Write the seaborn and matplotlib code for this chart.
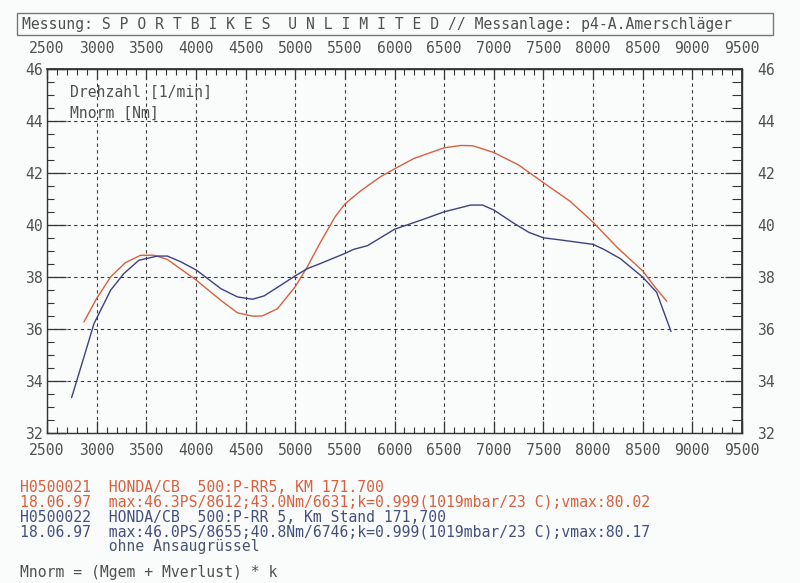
import matplotlib
matplotlib.use("Agg")
import matplotlib.pyplot as plt
from matplotlib.ticker import MultipleLocator
import seaborn as sns
import pandas as pd

# ---- data ----
red_rpm = [2872, 3000, 3141, 3291, 3443, 3578, 3712, 4005, 4250, 4418, 4570, 4670,
           4822, 5000, 5124, 5250, 5400, 5500, 5657, 5859, 6000, 6195, 6500, 6668,
           6786, 7000, 7250, 7500, 7770, 8000, 8243, 8500, 8625, 8743]
red_nm = [36.27, 37.17, 38.0, 38.55, 38.83, 38.83, 38.67, 37.87, 37.1, 36.62, 36.49, 36.5,
          36.78, 37.62, 38.4, 39.3, 40.3, 40.8, 41.3, 41.85, 42.15, 42.55, 42.96, 43.05,
          43.04, 42.78, 42.3, 41.62, 40.9, 40.1, 39.13, 38.23, 37.6, 37.06]

blue_rpm = [2748, 2872, 2973, 3141, 3275, 3426, 3612, 3712, 3847, 4005, 4250, 4418, 4570,
            4687, 4855, 5000, 5124, 5258, 5500, 5591, 5729, 6000, 6297, 6500, 6768, 6886,
            7000, 7202, 7354, 7500, 7670, 8000, 8107, 8275, 8500, 8640, 8785]
blue_nm = [33.36, 34.92, 36.2, 37.49, 38.13, 38.64, 38.8, 38.8, 38.58, 38.26, 37.55, 37.23,
           37.14, 37.27, 37.68, 38.04, 38.32, 38.52, 38.9, 39.06, 39.2, 39.83, 40.22, 40.5,
           40.76, 40.76, 40.57, 40.06, 39.71, 39.5, 39.42, 39.25, 39.06, 38.7, 37.99, 37.41, 35.9]

x_ticks = [2500, 3000, 3500, 4000, 4500, 5000, 5500, 6000, 6500, 7000, 7500, 8000, 8500, 9000, 9500]
y_ticks = [32, 34, 36, 38, 40, 42, 44, 46]

title_text = "Messung: S P O R T B I K E S  U N L I M I T E D // Messanlage: p4-A.Amerschläger"
info_lines = [
    "H0500021  HONDA/CB  500:P-RR5, KM 171.700",
    "18.06.97  max:46.3PS/8612;43.0Nm/6631;k=0.999(1019mbar/23 C);vmax:80.02",
    "H0500022  HONDA/CB  500:P-RR 5, Km Stand 171,700",
    "18.06.97  max:46.0PS/8655;40.8Nm/6746;k=0.999(1019mbar/23 C);vmax:80.17",
    "          ohne Ansaugrüssel",
]
formula_text = "Mnorm = (Mgem + Mverlust) * k"
axis_label_1 = "Drehzahl [1/min]"
axis_label_2 = "Mnorm [Nm]"

RED = "#d8603f"
BLUE = "#3c4180"
GRAY = "#505050"
info_colors = [RED, RED, "#44507e", "#44507e", "#4a5570"]

# ---- style ----
sns.set_theme(style="white")
plt.rcParams["font.family"] = ["DejaVu Sans Mono", "DejaVu Sans"]
FS = 10.6

df = pd.concat([
    pd.DataFrame({"rpm": red_rpm, "Nm": red_nm, "run": "H0500021"}),
    pd.DataFrame({"rpm": blue_rpm, "Nm": blue_nm, "run": "H0500022"}),
], ignore_index=True)

W, H = 800, 583
fig = plt.figure(figsize=(W / 100, H / 100), dpi=100)
bg = "#fafbfb"
fig.patch.set_facecolor(bg)

ax = fig.add_axes([47 / W, 1 - 433 / H, 695 / W, 364.3 / H])
ax.set_facecolor(bg)

sns.lineplot(data=df, x="rpm", y="Nm", hue="run", palette=[RED, BLUE],
             sort=False, estimator=None, legend=False, linewidth=1.0, ax=ax)

ax.set_xlim(2500, 9500)
ax.set_ylim(32, 46)
ax.set_xticks(x_ticks)
ax.set_yticks(y_ticks)
ax.xaxis.set_minor_locator(MultipleLocator(100))
ax.yaxis.set_minor_locator(MultipleLocator(0.5))
ax.set_xlabel("")
ax.set_ylabel("")
ax.grid(True, which="major", color="#3a3a3a", linestyle=(0, (3, 3)), linewidth=0.8)

for s in ax.spines.values():
    s.set_color("#333333")
    s.set_linewidth(1.0)

ax.tick_params(axis="x", which="major", direction="in", length=9, width=0.9,
               color="#333333", labelcolor=GRAY, labelsize=FS, pad=7,
               bottom=True, top=False)
ax.tick_params(axis="x", which="minor", direction="in", length=4, width=0.8,
               color="#333333", bottom=True, top=False)
ax.tick_params(axis="y", which="major", direction="in", length=14, width=0.9,
               color="#333333", labelcolor=GRAY, labelsize=FS, pad=3,
               left=True, right=False)
ax.tick_params(axis="y", which="minor", direction="in", length=5, width=0.8,
               color="#333333", left=True, right=False)

secx = ax.secondary_xaxis("top")
secx.set_xticks(x_ticks)
secx.xaxis.set_minor_locator(MultipleLocator(100))
secx.tick_params(axis="x", which="major", direction="in", length=7, width=0.9,
                 color="#333333", labelcolor=GRAY, labelsize=FS, pad=9)
secx.tick_params(axis="x", which="minor", direction="in", length=4, width=0.8,
                 color="#333333")
secx.spines["top"].set_color("#333333")

secy = ax.secondary_yaxis("right")
secy.set_yticks(y_ticks)
secy.yaxis.set_minor_locator(MultipleLocator(0.5))
secy.tick_params(axis="y", which="major", direction="in", length=12, width=0.9,
                 color="#333333", labelcolor=GRAY, labelsize=FS, pad=11)
secy.tick_params(axis="y", which="minor", direction="in", length=7, width=0.8,
                 color="#333333")
secy.spines["right"].set_color("#333333")

# inner labels
fig.text(70 / W, 1 - 92 / H, axis_label_1, fontsize=FS, color=GRAY, va="center", ha="left")
fig.text(70 / W, 1 - 113 / H, axis_label_2, fontsize=FS, color=GRAY, va="center", ha="left")

# title box
rect = plt.Rectangle((17 / W, 1 - 35 / H), 756 / W, 22 / H, transform=fig.transFigure,
                     fill=False, edgecolor="#777777", linewidth=1.0)
fig.patches.append(rect)
fig.text(22 / W, 1 - 24.5 / H, title_text, fontsize=FS, color=GRAY, va="center", ha="left")

# info lines
for i, (line, col) in enumerate(zip(info_lines, info_colors)):
    fig.text(20 / W, 1 - (487 + 15 * i) / H, line, fontsize=FS, color=col,
             va="center", ha="left")
fig.text(20 / W, 1 - 573 / H, formula_text, fontsize=FS, color=GRAY, va="center", ha="left")

fig.savefig("out.png", dpi=100, facecolor=fig.get_facecolor())
